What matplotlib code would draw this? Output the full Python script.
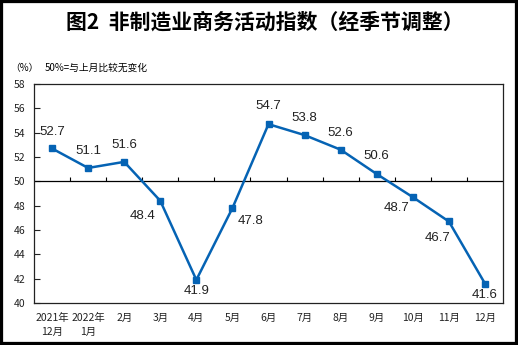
import matplotlib.pyplot as plt
from matplotlib.patches import Rectangle

plt.rcParams['font.family'] = ['Noto Sans CJK SC', 'DejaVu Sans']

months = ["2021年\n12月", "2022年\n1月", "2月", "3月", "4月", "5月", "6月",
          "7月", "8月", "9月", "10月", "11月", "12月"]
index = [52.7, 51.1, 51.6, 48.4, 41.9, 47.8, 54.7, 53.8, 52.6, 50.6, 48.7, 46.7, 41.6]
# label offsets (points) relative to each marker
offsets = [(0, 12), (0, 12.5), (0, 12), (-13, -11), (0, -8), (13, -9), (0, 13),
           (0, 12), (0, 12), (0, 13), (-12, -8), (-8, -12), (0, -8)]

blue = '#0563b4'

fig = plt.figure(figsize=(5.18, 3.45), dpi=100)
ax = fig.add_axes([34 / 518, 1 - 303 / 345, 469 / 518, 219 / 345])

x = list(range(len(index)))
ax.plot(x, index, color=blue, lw=1.8, marker='s', ms=4.5, zorder=3)
for xi, v, (dx, dy) in zip(x, index, offsets):
    ax.annotate(f"{v:.1f}", (xi, v), xytext=(dx, dy), textcoords='offset points',
                ha='center', va='center', fontsize=9.5, family='Liberation Sans',
                color='#222222')

ax.set_xlim(-0.5, len(index) - 0.5)
ax.set_ylim(40, 58)
ax.set_yticks(range(40, 59, 2))
ax.tick_params(axis='y', direction='in', length=4, width=0.8, labelsize=7.5,
               pad=6, colors='#222222')
ax.set_xticks(x)
ax.set_xticklabels(months, fontsize=7.5, linespacing=1.5, color='#222222')
ax.tick_params(axis='x', length=0, pad=7)

# 50% reference line with category separators
ax.axhline(50, color='black', lw=0.9, zorder=2)
ax.vlines([k + 0.5 for k in range(len(index) - 1)], 50, 50.33,
          color='black', lw=0.8, zorder=2)

for s in ax.spines.values():
    s.set_color('#222222')
    s.set_linewidth(0.9)

fig.text(265 / 518, 1 - 22 / 345, "图2  非制造业商务活动指数（经季节调整）",
         ha='center', va='center', fontsize=15, fontweight='bold')
fig.text(10 / 518, 1 - 68 / 345, "（%）", ha='left', va='center', fontsize=7)
fig.text(45 / 518, 1 - 68 / 345, "50%=与上月比较无变化", ha='left', va='center',
         fontsize=7)

fig.patches.append(Rectangle((0, 0), 1, 1, transform=fig.transFigure,
                             fill=False, edgecolor='black', lw=4.5))

fig.savefig("out.png", dpi=100)
